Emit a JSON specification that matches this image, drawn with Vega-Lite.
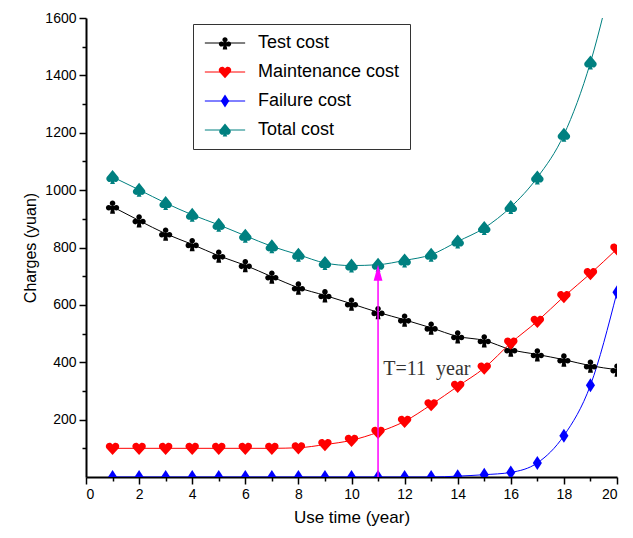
{
  "$schema": "https://vega.github.io/schema/vega-lite/v6.json",
  "width": 531,
  "height": 459,
  "autosize": {"type": "none"},
  "padding": {"left": 86, "top": 18, "right": 16, "bottom": 61},
  "config": {
    "view": {"stroke": null},
    "font": "Liberation Sans",
    "axis": {
      "domainColor": "black", "domainWidth": 2, "tickColor": "black", "tickWidth": 1.5,
      "labelFont": "Liberation Sans", "labelFontSize": 14, "labelColor": "black",
      "titleFont": "Liberation Sans", "titleFontWeight": "normal", "titleColor": "black", "grid": false
    }
  },
  "datasets": {
    "costs": [
      {"year": 1, "series": "Test cost", "cost": 942}, {"year": 2, "series": "Test cost", "cost": 894},
      {"year": 3, "series": "Test cost", "cost": 848}, {"year": 4, "series": "Test cost", "cost": 811},
      {"year": 5, "series": "Test cost", "cost": 771}, {"year": 6, "series": "Test cost", "cost": 738},
      {"year": 7, "series": "Test cost", "cost": 698}, {"year": 8, "series": "Test cost", "cost": 660},
      {"year": 9, "series": "Test cost", "cost": 633}, {"year": 10, "series": "Test cost", "cost": 604},
      {"year": 11, "series": "Test cost", "cost": 574}, {"year": 12, "series": "Test cost", "cost": 548},
      {"year": 13, "series": "Test cost", "cost": 520}, {"year": 14, "series": "Test cost", "cost": 490},
      {"year": 15, "series": "Test cost", "cost": 476}, {"year": 16, "series": "Test cost", "cost": 444},
      {"year": 17, "series": "Test cost", "cost": 427}, {"year": 18, "series": "Test cost", "cost": 409},
      {"year": 19, "series": "Test cost", "cost": 388}, {"year": 20, "series": "Test cost", "cost": 374},
      {"year": 1, "series": "Maintenance cost", "cost": 100}, {"year": 2, "series": "Maintenance cost", "cost": 100},
      {"year": 3, "series": "Maintenance cost", "cost": 100}, {"year": 4, "series": "Maintenance cost", "cost": 100},
      {"year": 5, "series": "Maintenance cost", "cost": 100}, {"year": 6, "series": "Maintenance cost", "cost": 100},
      {"year": 7, "series": "Maintenance cost", "cost": 100}, {"year": 8, "series": "Maintenance cost", "cost": 102},
      {"year": 9, "series": "Maintenance cost", "cost": 113}, {"year": 10, "series": "Maintenance cost", "cost": 128},
      {"year": 11, "series": "Maintenance cost", "cost": 156}, {"year": 12, "series": "Maintenance cost", "cost": 194},
      {"year": 13, "series": "Maintenance cost", "cost": 252}, {"year": 14, "series": "Maintenance cost", "cost": 316},
      {"year": 15, "series": "Maintenance cost", "cost": 380}, {"year": 16, "series": "Maintenance cost", "cost": 467},
      {"year": 17, "series": "Maintenance cost", "cost": 543}, {"year": 18, "series": "Maintenance cost", "cost": 629},
      {"year": 19, "series": "Maintenance cost", "cost": 709}, {"year": 20, "series": "Maintenance cost", "cost": 795},
      {"year": 1, "series": "Failure cost", "cost": 0}, {"year": 2, "series": "Failure cost", "cost": 0},
      {"year": 3, "series": "Failure cost", "cost": 0}, {"year": 4, "series": "Failure cost", "cost": 0},
      {"year": 5, "series": "Failure cost", "cost": 0}, {"year": 6, "series": "Failure cost", "cost": 0},
      {"year": 7, "series": "Failure cost", "cost": 0}, {"year": 8, "series": "Failure cost", "cost": 0},
      {"year": 9, "series": "Failure cost", "cost": 0}, {"year": 10, "series": "Failure cost", "cost": 0},
      {"year": 11, "series": "Failure cost", "cost": 0}, {"year": 12, "series": "Failure cost", "cost": 0},
      {"year": 13, "series": "Failure cost", "cost": 0}, {"year": 14, "series": "Failure cost", "cost": 3},
      {"year": 15, "series": "Failure cost", "cost": 8}, {"year": 16, "series": "Failure cost", "cost": 16},
      {"year": 17, "series": "Failure cost", "cost": 49}, {"year": 18, "series": "Failure cost", "cost": 144},
      {"year": 19, "series": "Failure cost", "cost": 320}, {"year": 20, "series": "Failure cost", "cost": 644},
      {"year": 1, "series": "Total cost", "cost": 1046}, {"year": 2, "series": "Total cost", "cost": 1001},
      {"year": 3, "series": "Total cost", "cost": 955}, {"year": 4, "series": "Total cost", "cost": 914},
      {"year": 5, "series": "Total cost", "cost": 879}, {"year": 6, "series": "Total cost", "cost": 841},
      {"year": 7, "series": "Total cost", "cost": 804}, {"year": 8, "series": "Total cost", "cost": 775},
      {"year": 9, "series": "Total cost", "cost": 746}, {"year": 10, "series": "Total cost", "cost": 737},
      {"year": 11, "series": "Total cost", "cost": 740}, {"year": 12, "series": "Total cost", "cost": 755},
      {"year": 13, "series": "Total cost", "cost": 775}, {"year": 14, "series": "Total cost", "cost": 821},
      {"year": 15, "series": "Total cost", "cost": 868}, {"year": 16, "series": "Total cost", "cost": 941},
      {"year": 17, "series": "Total cost", "cost": 1044}, {"year": 18, "series": "Total cost", "cost": 1193},
      {"year": 19, "series": "Total cost", "cost": 1445}, {"year": 20, "series": "Total cost", "cost": 1813}
    ]
  },
  "encoding": {
    "x": {
      "field": "year", "type": "quantitative",
      "scale": {"domain": [0, 20], "nice": false},
      "axis": {
        "title": "Use time (year)", "titleFontSize": 17, "titlePadding": 8,
        "values": [0,1,2,3,4,5,6,7,8,9,10,11,12,13,14,15,16,17,18,19,20],
        "labelExpr": "datum.value % 2 === 0 ? datum.label : ''",
        "labelPadding": 3,
        "tickSize": {"condition": {"test": "datum.value % 2 === 0", "value": 7}, "value": 4}
      }
    },
    "y": {
      "field": "cost", "type": "quantitative",
      "scale": {"domain": [0, 1600], "nice": false},
      "axis": {
        "title": "Charges (yuan)", "titleFontSize": 16, "titlePadding": 6,
        "values": [100,200,300,400,500,600,700,800,900,1000,1100,1200,1300,1400,1500,1600],
        "labelExpr": "datum.value % 200 === 0 ? datum.label : ''",
        "format": "d",
        "labelPadding": 3,
        "tickSize": {"condition": {"test": "datum.value % 200 === 0", "value": 7}, "value": 4}
      }
    }
  },
  "layer": [
    {
      "data": {"name": "costs"},
      "mark": {"type": "line", "strokeWidth": 1, "interpolate": "monotone", "clip": true},
      "encoding": {
        "color": {"field": "series", "type": "nominal", "legend": null,
          "scale": {"domain": ["Test cost", "Maintenance cost", "Failure cost", "Total cost"], "range": ["#000000", "#ff0000", "#0000ff", "#008080"]}}
      }
    },
    {
      "data": {"name": "costs"},
      "mark": {"type": "point", "filled": true, "opacity": 1, "size": 196, "clip": true},
      "encoding": {
        "color": {"field": "series", "type": "nominal",
          "scale": {"domain": ["Test cost", "Maintenance cost", "Failure cost", "Total cost"], "range": ["#000000", "#ff0000", "#0000ff", "#008080"]},
          "legend": {"title": null, "orient": "none", "legendX": 107, "legendY": 6,
            "strokeColor": "#333333", "padding": 10, "rowPadding": 11,
            "symbolSize": 169, "symbolOffset": 13, "labelOffset": 24, "labelFontSize": 18,
            "labelFont": "Liberation Sans", "labelColor": "black", "labelLimit": 300}},
        "shape": {"field": "series", "type": "nominal",
          "scale": {"domain": ["Test cost", "Maintenance cost", "Failure cost", "Total cost"],
            "range": [
              "M-0.4,-0.5A0.4,0.4 0 1,1 0.4,-0.5A0.4,0.4 0 1,1 -0.4,-0.5ZM-0.95,0.15A0.4,0.4 0 1,1 -0.15,0.15A0.4,0.4 0 1,1 -0.95,0.15ZM0.15,0.15A0.4,0.4 0 1,1 0.95,0.15A0.4,0.4 0 1,1 0.15,0.15ZM0,-0.3L0.4,0.15L0,0.45L-0.4,0.15ZM-0.15,-0.1L0.15,-0.1L0.35,1L-0.35,1Z",
              "M0,0.95L-0.88,0A0.47,0.47 0 0,1 0,-0.55A0.47,0.47 0 0,1 0.88,0Z",
              "M0,-1L0.65,0L0,1L-0.65,0Z",
              "M0,-1L-0.85,0.05A0.45,0.45 0 0,0 0,0.45A0.45,0.45 0 0,0 0.85,0.05ZM0,0.2L-0.35,1L0.35,1Z"
            ]},
          "legend": {"title": null, "orient": "none", "legendX": 107, "legendY": 6,
            "strokeColor": "#333333", "padding": 10, "rowPadding": 11,
            "symbolSize": 169, "symbolOffset": 13, "labelOffset": 24, "labelFontSize": 18,
            "labelFont": "Liberation Sans", "labelColor": "black", "labelLimit": 300}}
      }
    },
    {
      "data": {"name": "costs"},
      "transform": [{"filter": "false"}],
      "mark": {"type": "point", "filled": false, "opacity": 1, "size": 169, "strokeWidth": 1},
      "encoding": {
        "color": {"field": "series", "type": "nominal",
          "scale": {"domain": ["Test cost", "Maintenance cost", "Failure cost", "Total cost"], "range": ["#000000", "#ff0000", "#0000ff", "#008080"]},
          "legend": {"title": null, "orient": "none", "legendX": 107, "legendY": 6,
            "padding": 10, "rowPadding": 11, "symbolType": "M-3.1,0L3.1,0",
            "symbolSize": 169, "symbolOffset": 13, "labelOffset": 24, "labelFontSize": 18,
            "labelFont": "Liberation Sans", "labelOpacity": 0, "labelLimit": 300,
            "symbolStrokeWidth": 1}}
      }
    },
    {
      "data": {"values": [{"year": 11, "lo": 0, "hi": 700}]},
      "mark": {"type": "rule", "color": "#ff00ff", "strokeWidth": 1.5},
      "encoding": {"y": {"field": "lo", "type": "quantitative"}, "y2": {"field": "hi"}}
    },
    {
      "data": {"values": [{"year": 11, "cost": 712}]},
      "mark": {"type": "point", "filled": true, "opacity": 1, "color": "#ff00ff", "size": 256, "shape": "M0,-1L0.55,1L-0.55,1Z"},
      "encoding": {}
    },
    {
      "data": {"values": [{"year": 11.2, "cost": 357, "label": "T=11\u00a0 year"}]},
      "mark": {"type": "text", "font": "Liberation Serif", "fontSize": 20, "color": "#333333", "align": "left", "baseline": "alphabetic"},
      "encoding": {"text": {"field": "label"}}
    }
  ],
  "resolve": {"scale": {"color": "independent", "shape": "independent"}}
}
